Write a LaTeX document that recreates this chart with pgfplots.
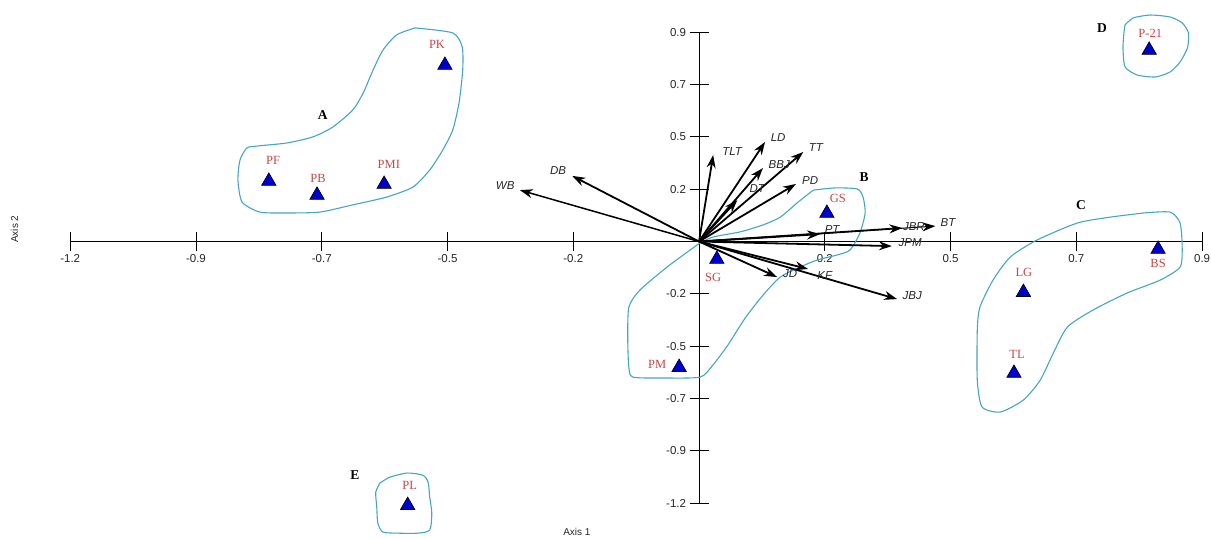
\documentclass[border=0pt]{standalone}
\usepackage{pgfplots}
\pgfplotsset{compat=1.18}
\usepackage{fontspec}
\setmainfont{Liberation Serif}
\setsansfont{Liberation Sans}
\usetikzlibrary{arrows.meta}
\definecolor{cont}{RGB}{70,165,195}
\definecolor{lab}{RGB}{200,70,70}
\definecolor{tri}{RGB}{0,0,205}
\begin{document}
\begin{tikzpicture}
\begin{axis}[
  x=523.8pt, y=217.9pt,
  xmin=-1.2, xmax=0.96, ymin=-1.2, ymax=0.96,
  axis lines=middle,
  axis line style={-, black, line width=0.9pt},
  clip=false,
  xtick={-1.2,-0.96,-0.72,-0.48,-0.24,0.24,0.48,0.72,0.96},
  xticklabels={-1.2,-0.9,-0.7,-0.5,-0.2,0.2,0.5,0.7,0.9},
  ytick={-1.2,-0.96,-0.72,-0.48,-0.24,0.24,0.48,0.72,0.96},
  yticklabels={-1.2,-0.9,-0.7,-0.5,-0.2,0.2,0.5,0.7,0.9},
  tick align=center, major tick length=19pt,
  tick style={black, line width=0.9pt},
  ticklabel style={font=\sffamily\fontsize{11.5}{13}\selectfont, text=black!85},
  /pgf/number format/assume math mode=true,
  arr/.style={black, line width=1.8pt, -{Stealth[length=13pt,width=9pt]}},
  cnt/.style={cont, line width=1.1pt, smooth, tension=0.4},
]
% contours
\addplot[cnt] coordinates {(-0.542,0.980) (-0.470,0.957) (-0.452,0.893) (-0.451,0.787) (-0.458,0.636) (-0.470,0.512) (-0.489,0.420) (-0.514,0.328) (-0.546,0.250) (-0.596,0.204) (-0.661,0.168) (-0.724,0.135) (-0.787,0.131) (-0.838,0.135) (-0.872,0.181) (-0.880,0.282) (-0.876,0.374) (-0.863,0.429) (-0.844,0.438) (-0.787,0.452) (-0.737,0.480) (-0.699,0.525) (-0.661,0.603) (-0.641,0.681) (-0.622,0.787) (-0.603,0.879) (-0.577,0.948) (-0.542,0.980)};
\addplot[cnt] coordinates {(0.218,0.236) (0.260,0.246) (0.302,0.241) (0.313,0.204) (0.317,0.131) (0.307,0.039) (0.288,-0.039) (0.263,-0.062) (0.225,-0.085) (0.193,-0.117) (0.155,-0.163) (0.122,-0.246) (0.088,-0.351) (0.055,-0.475) (0.025,-0.571) (0.002,-0.622) (-0.065,-0.626) (-0.126,-0.622) (-0.134,-0.576) (-0.136,-0.452) (-0.134,-0.301) (-0.113,-0.223) (-0.061,-0.117) (-0.017,-0.039) (0.002,-0.007) (0.027,0.021) (0.078,0.044) (0.122,0.076) (0.155,0.112) (0.187,0.177) (0.218,0.236)};
\addplot[cnt] coordinates {(0.848,0.131) (0.899,0.135) (0.918,0.085) (0.922,-0.025) (0.918,-0.117) (0.880,-0.177) (0.817,-0.236) (0.752,-0.314) (0.703,-0.392) (0.676,-0.512) (0.651,-0.636) (0.619,-0.727) (0.575,-0.782) (0.540,-0.759) (0.531,-0.636) (0.531,-0.406) (0.536,-0.301) (0.561,-0.177) (0.594,-0.071) (0.645,0.007) (0.722,0.085) (0.785,0.112) (0.848,0.131)};
\addplot[cnt] coordinates {(0.813,0.994) (0.829,1.026) (0.861,1.039) (0.899,1.030) (0.922,1.003) (0.934,0.957) (0.932,0.888) (0.918,0.824) (0.899,0.778) (0.871,0.755) (0.836,0.764) (0.813,0.801) (0.809,0.888) (0.811,0.961) (0.813,0.994)};
\addplot[cnt] coordinates {(-0.609,-1.108) (-0.590,-1.081) (-0.557,-1.062) (-0.527,-1.072) (-0.517,-1.104) (-0.514,-1.172) (-0.510,-1.246) (-0.514,-1.324) (-0.538,-1.338) (-0.571,-1.338) (-0.603,-1.333) (-0.613,-1.292) (-0.615,-1.218) (-0.617,-1.150) (-0.609,-1.108)};
% variable vectors
\addplot[arr, line width=1.5pt] coordinates {(0,0) (-0.342,0.236)};
\addplot[arr] coordinates {(0,0) (-0.242,0.301)};
\addplot[arr] coordinates {(0,0) (0.027,0.397)};
\addplot[arr] coordinates {(0,0) (0.126,0.457)};
\addplot[arr] coordinates {(0,0) (0.199,0.411)};
\addplot[arr] coordinates {(0,0) (0.122,0.337)};
\addplot[arr] coordinates {(0,0) (0.073,0.190)};
\addplot[arr] coordinates {(0,0) (0.185,0.264)};
\addplot[arr] coordinates {(0,0) (0.231,0.034)};
\addplot[arr] coordinates {(0,0) (0.388,0.062)};
\addplot[arr, line width=1pt] coordinates {(0,0) (0.451,0.071)};
\addplot[arr] coordinates {(0,0) (0.368,-0.021)};
\addplot[arr] coordinates {(0,0) (0.208,-0.126)};
\addplot[arr] coordinates {(0,0) (0.149,-0.163)};
\addplot[arr] coordinates {(0,0) (0.378,-0.264)};
% sites
\addplot[only marks, mark=triangle*, mark size=8.3pt, mark options={fill=tri, draw=black, line width=0.6pt}] coordinates {
(-0.485,0.809) (-0.821,0.277) (-0.729,0.213) (-0.601,0.263) (0.859,0.878) (0.244,0.130) (0.876,-0.035) (0.619,-0.233) (0.601,-0.604) (0.034,-0.081) (-0.038,-0.577) (-0.556,-1.210)};
% vector labels
\begin{scope}[every node/.style={font=\sffamily\itshape\fontsize{11.5}{13}\selectfont, text=black!85, inner sep=0pt}]
\node at (axis cs:-0.370,0.255) {WB};
\node at (axis cs:-0.269,0.324) {DB};
\node at (axis cs:0.063,0.411) {TLT};
\node at (axis cs:0.151,0.475) {LD};
\node at (axis cs:0.223,0.429) {TT};
\node at (axis cs:0.153,0.351) {BBJ};
\node at (axis cs:0.111,0.241) {DT};
\node at (axis cs:0.212,0.282) {PD};
\node at (axis cs:0.254,0.053) {PT};
\node at (axis cs:0.410,0.067) {JBR};
\node at (axis cs:0.475,0.089) {BT};
\node at (axis cs:0.403,-0.007) {JPM};
\node at (axis cs:0.240,-0.158) {KF};
\node at (axis cs:0.174,-0.145) {JD};
\node at (axis cs:0.407,-0.246) {JBJ};
\end{scope}
% site labels
\begin{scope}[every node/.style={font=\rmfamily\fontsize{12.5}{14}\selectfont, text=lab, inner sep=0pt}]
\node at (axis cs:-0.500,0.906) {PK};
\node at (axis cs:-0.813,0.374) {PF};
\node at (axis cs:-0.727,0.291) {PB};
\node at (axis cs:-0.592,0.356) {PMI};
\node at (axis cs:0.861,0.957) {P-21};
\node at (axis cs:0.265,0.200) {GS};
\node at (axis cs:0.027,-0.163) {SG};
\node at (axis cs:0.876,-0.099) {BS};
\node at (axis cs:0.620,-0.140) {LG};
\node at (axis cs:0.607,-0.516) {TL};
\node at (axis cs:-0.080,-0.562) {PM};
\node at (axis cs:-0.552,-1.117) {PL};
\end{scope}
% group letters
\begin{scope}[every node/.style={font=\rmfamily\bfseries\fontsize{13.5}{15}\selectfont, text=black, inner sep=0pt}]
\node at (axis cs:-0.718,0.581) {A};
\node at (axis cs:0.315,0.296) {B};
\node at (axis cs:0.729,0.168) {C};
\node at (axis cs:0.769,0.980) {D};
\node at (axis cs:-0.657,-1.072) {E};
\end{scope}
% axis titles
\node[font=\sffamily\fontsize{10}{12}\selectfont, text=black!85] at (axis cs:-0.233,-1.333) {Axis 1};
\node[font=\sffamily\fontsize{10}{12}\selectfont, text=black!85, rotate=90] at (axis cs:-1.306,0.057) {Axis 2};
\coordinate (bbsw) at (axis cs:-1.334,-1.361);
\coordinate (bbne) at (axis cs:0.977,1.108);
\end{axis}
\pgfresetboundingbox
\useasboundingbox (bbsw) rectangle (bbne);
\end{tikzpicture}
\end{document}
